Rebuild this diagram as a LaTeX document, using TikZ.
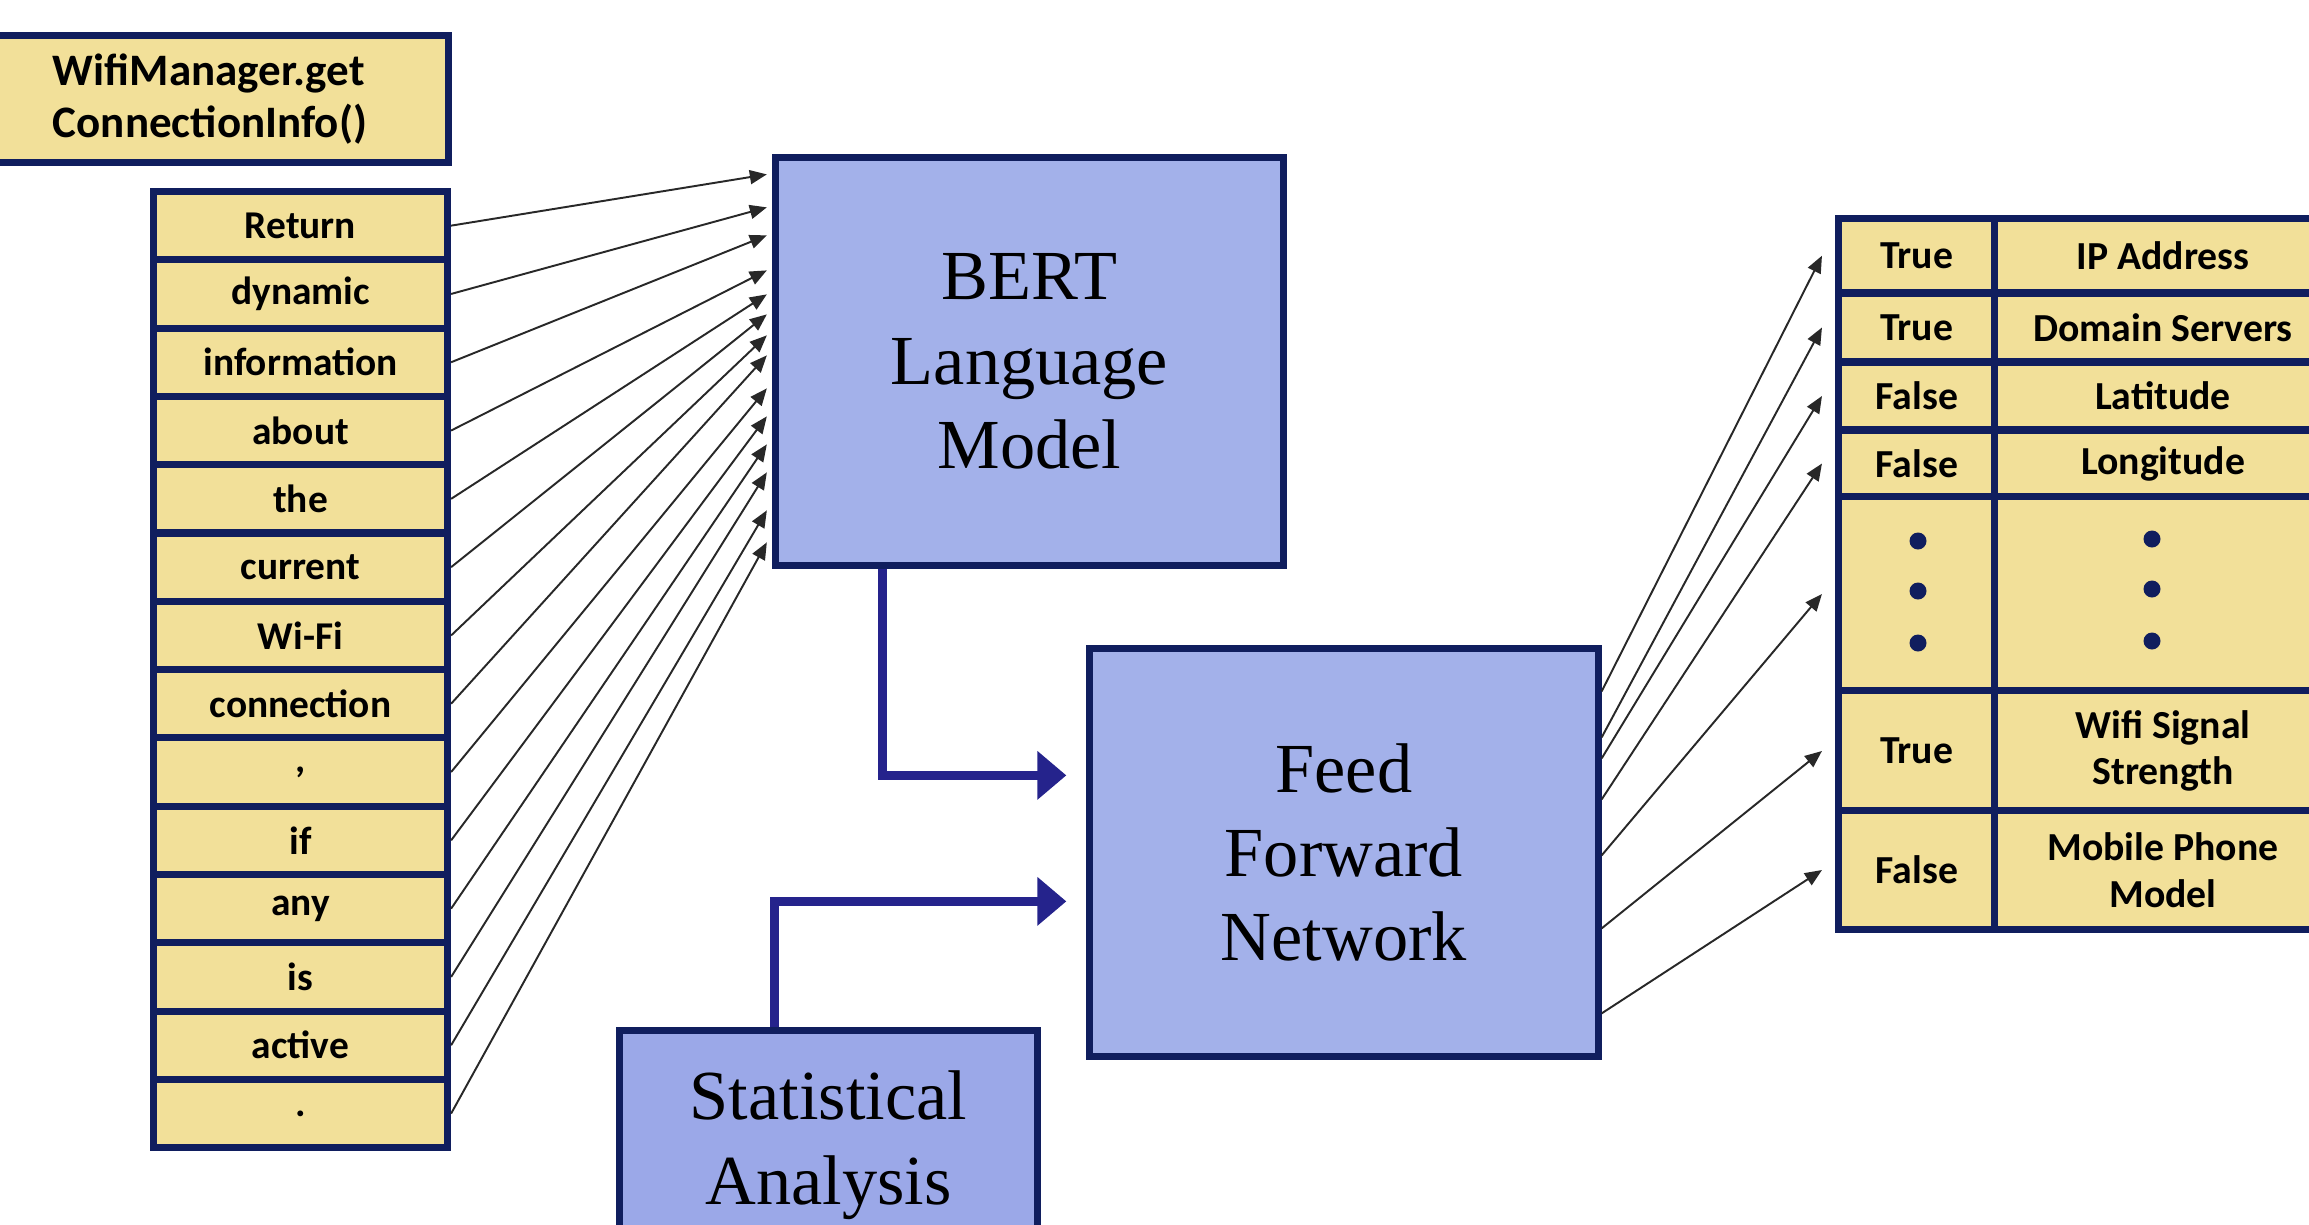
\documentclass[tikz,border=0pt]{standalone}
\usepackage{fontspec}
\setmainfont{Liberation Serif}
\newfontfamily\tokfont{Carlito}
\usetikzlibrary{arrows.meta}
\usetikzlibrary{calc}
\usepackage{xcolor}

\definecolor{navy}{RGB}{16,30,94}
\definecolor{modelblue}{RGB}{163,177,234}
\definecolor{statblue}{RGB}{155,168,232}
\definecolor{tokyellow}{RGB}{242,224,153}
\definecolor{flowblue}{RGB}{37,35,140}
\definecolor{linkgray}{RGB}{40,40,40}

\tikzset{
    tok/.style={draw=navy, line width=2pt, fill=tokyellow, inner sep=0pt,
        minimum width=2.94cm, minimum height=0.683cm,
        font=\tokfont\bfseries\fontsize{11.2}{13}\selectfont},
    cell/.style={draw=navy, line width=2pt, fill=tokyellow, inner sep=0pt, align=center,
        font=\tokfont\bfseries\fontsize{11.3}{13.2}\selectfont},
    model/.style={draw=navy, line width=2pt, fill=modelblue, align=center,
        minimum width=5.08cm, minimum height=4.07cm,
        font=\fontsize{20}{24}\selectfont},
    link/.style={draw=linkgray, line width=0.55pt, -{Triangle[length=0.17cm, width=0.14cm]}},
    flow/.style={draw=flowblue, line width=0.09cm, -{Triangle[length=0.29cm, width=0.47cm]}}
}

\begin{document}
\begin{tikzpicture}[x=0.01cm, y=-0.01cm]
        \useasboundingbox (0,0) rectangle (2309,1224);
        \clip (0,0) rectangle (2309,1224);

        \node[model] (bert) at (1029.5,361.5) {BERT\\Language\\Model};
        \node[model] (ffn) at (1344,852.5) {Feed\\Forward\\Network};
        \node[model, fill=statblue, minimum width=4.18cm, minimum height=2.28cm] (stat) at (828.5,1145) {Statistical\\Analysis};

        % method name and its tokens
        \node[tok, text width=3.22cm, align=left, inner xsep=0.73cm, minimum height=1.27cm,
            font=\tokfont\bfseries\fontsize{12.8}{15}\selectfont] (method) at (214,99) {WifiManager.get\\ConnectionInfo()};

        \foreach \w/\t [count=\i from 0] in {Return/20, dynamic/53, information/81, about/116, the/140, current/160, Wi-Fi/181, connection/201, {,}/234, if/262, any/290, is/318, active/356, ./388}{
            \node[tok] (tok\i) at (300.5,225.65+68.3*\i) {\w};
            \draw[link] (tok\i.east) -- ($(bert.north west)+(-5,\t)$);
        }

        % output table
        \foreach \y/\h/\f/\n [count=\r] in {255.75/0.745cm/True/IP Address, 327.5/0.69cm/True/Domain Servers, 396/0.68cm/False/Latitude, 463.5/0.67cm/False/Longitude, 594/1.94cm//, 751/1.2cm/True/Wifi Signal\\Strength, 870/1.18cm/False/Mobile Phone\\Model}{
            \node[cell, minimum width=1.565cm, minimum height=\h] (flag\r) at (1916.75,\y) {\f};
            \node[cell, minimum width=3.36cm, minimum height=\h] (feat\r) at (2163,\y) {\n};
        }
        \foreach \y in {541,591,643}{
            \fill[navy] (1918,\y) circle (0.085cm);
            \fill[navy] (2152,\y-2) circle (0.085cm);
        }

        \foreach \s [count=\r] in {46,92,113,154,210,283,368}{
            \draw[link] ($(ffn.north east)+(0,\s)$) -- ($(flag\r.west)+(-13,0)$);
        }

        \draw[flow] ($(bert.south west)+(111,0)$) |- ($(ffn.north west)+(-20,130)$);
        \draw[flow] ($(stat.north west)+(159,0)$) |- ($(ffn.north west)+(-20,256)$);
\end{tikzpicture}
\end{document}
